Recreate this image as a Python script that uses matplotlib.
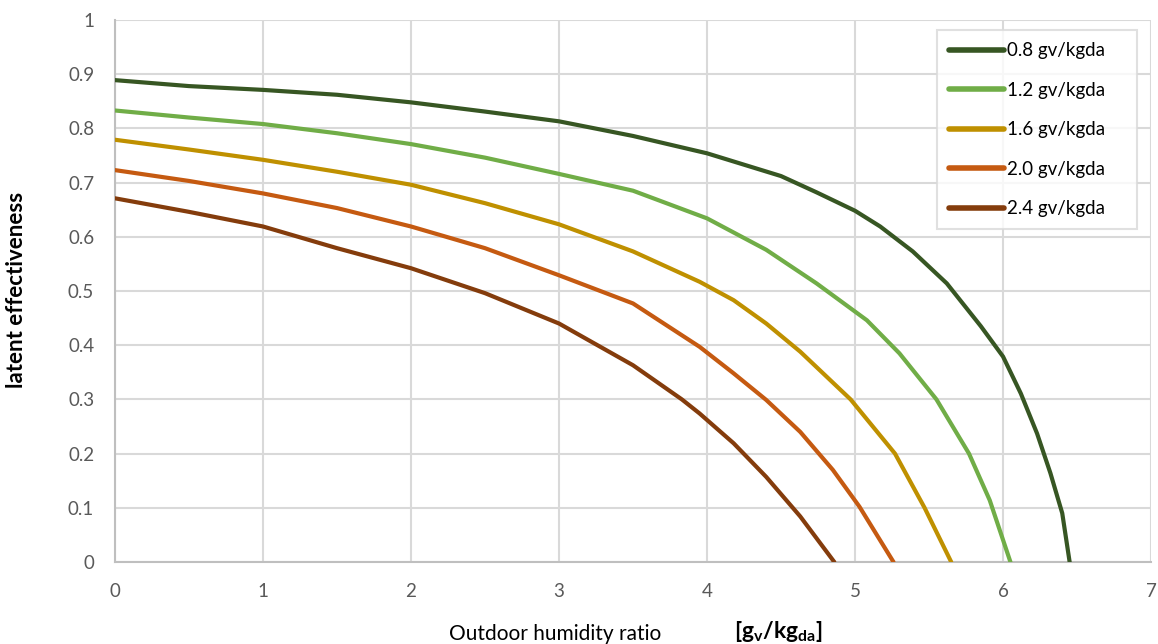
import matplotlib
matplotlib.use("Agg")
import matplotlib.pyplot as plt

plt.rcParams['font.family'] = ['Lato', 'DejaVu Sans']
plt.rcParams['mathtext.fontset'] = 'custom'
plt.rcParams['mathtext.rm'] = 'Lato'
plt.rcParams['mathtext.bf'] = 'Lato:bold'

# curves, one per humidity difference
labels = ['0.8 gv/kgda', '1.2 gv/kgda', '1.6 gv/kgda', '2.0 gv/kgda', '2.4 gv/kgda']
colors = ['#375623', '#70ad47', '#bf9000', '#c55a11', '#843c0c']

x_08 = [0, 0.5, 1, 1.5, 2, 2.5, 3, 3.5, 4, 4.5, 4.74, 5, 5.17, 5.39, 5.62, 5.85, 6.0,
        6.12, 6.23, 6.32, 6.40, 6.45]
y_08 = [0.889, 0.878, 0.871, 0.862, 0.848, 0.831, 0.813, 0.786, 0.754, 0.712, 0.682,
        0.648, 0.619, 0.573, 0.514, 0.435, 0.379, 0.311, 0.237, 0.164, 0.090, 0.0]

x_12 = [0, 0.5, 1, 1.5, 2, 2.5, 3, 3.5, 4, 4.4, 4.74, 5.08, 5.3, 5.55, 5.77, 5.91, 6.05]
y_12 = [0.833, 0.820, 0.808, 0.791, 0.771, 0.746, 0.716, 0.685, 0.634, 0.576, 0.514,
        0.446, 0.385, 0.3, 0.2, 0.114, 0.0]

x_16 = [0, 0.5, 1, 1.5, 2, 2.5, 3, 3.5, 3.95, 4.18, 4.40, 4.63, 4.97, 5.27, 5.47, 5.65]
y_16 = [0.779, 0.761, 0.742, 0.720, 0.696, 0.662, 0.623, 0.573, 0.517, 0.483, 0.440,
        0.388, 0.300, 0.200, 0.100, 0.0]

x_20 = [0, 0.5, 1, 1.5, 2, 2.5, 3, 3.5, 3.95, 4.18, 4.40, 4.63, 4.85, 5.03, 5.26]
y_20 = [0.723, 0.703, 0.680, 0.653, 0.619, 0.579, 0.529, 0.477, 0.397, 0.348, 0.299,
        0.240, 0.170, 0.102, 0.0]

x_24 = [0, 0.5, 1, 1.5, 2, 2.5, 3, 3.5, 3.83, 3.95, 4.18, 4.40, 4.63, 4.86]
y_24 = [0.671, 0.646, 0.619, 0.579, 0.542, 0.496, 0.440, 0.363, 0.300, 0.274, 0.219,
        0.157, 0.084, 0.0]

xs = [x_08, x_12, x_16, x_20, x_24]
ys = [y_08, y_12, y_16, y_20, y_24]

fig = plt.figure(figsize=(11.58, 6.44), dpi=100)
ax = fig.add_axes([0.0993, 0.1273, 0.8947, 0.8417])

for x, y, c, lab in zip(xs, ys, colors, labels):
    ax.plot(x, y, color=c, lw=3, label=lab, solid_capstyle='round',
            solid_joinstyle='round', zorder=3)

ax.set_xlim(0, 7)
ax.set_ylim(0, 1)
ax.set_xticks(range(8))
ax.set_yticks([i / 10 for i in range(11)])
ax.set_yticklabels(['0', '0.1', '0.2', '0.3', '0.4', '0.5', '0.6', '0.7', '0.8', '0.9', '1'])
ax.grid(True, color='#d9d9d9', lw=1.5, zorder=0)
ax.tick_params(length=0, labelsize=13.5, labelcolor='#595959', pad=15)
for s in ['top', 'right']:
    ax.spines[s].set_visible(False)
for s in ['left', 'bottom']:
    ax.spines[s].set_color('#bfbfbf')
    ax.spines[s].set_linewidth(1.5)

ax.set_ylabel('latent effectiveness', fontsize=16, fontweight='bold')
ax.yaxis.set_label_coords(-0.085, 0.502)

fig.text(0.388, 0.0, 'Outdoor humidity ratio', fontsize=15, va='bottom', ha='left')
fig.text(0.634, 0.0, r'$\mathbf{[g_{v}/kg_{da}]}$', fontsize=16.5, va='bottom', ha='left')

leg = ax.legend(loc='upper right', bbox_to_anchor=(0.7934, 0.6125, 0.1931, 0.369),
                mode='expand', borderaxespad=0, fontsize=13.5,
                frameon=True, fancybox=False, edgecolor='#d9d9d9', handlelength=2.9,
                labelspacing=1.2, borderpad=0.65, handletextpad=0.2)
leg.get_frame().set_linewidth(1.5)
for h in leg.get_lines():
    h.set_linewidth(4)

fig.savefig('out.png', dpi=100)
